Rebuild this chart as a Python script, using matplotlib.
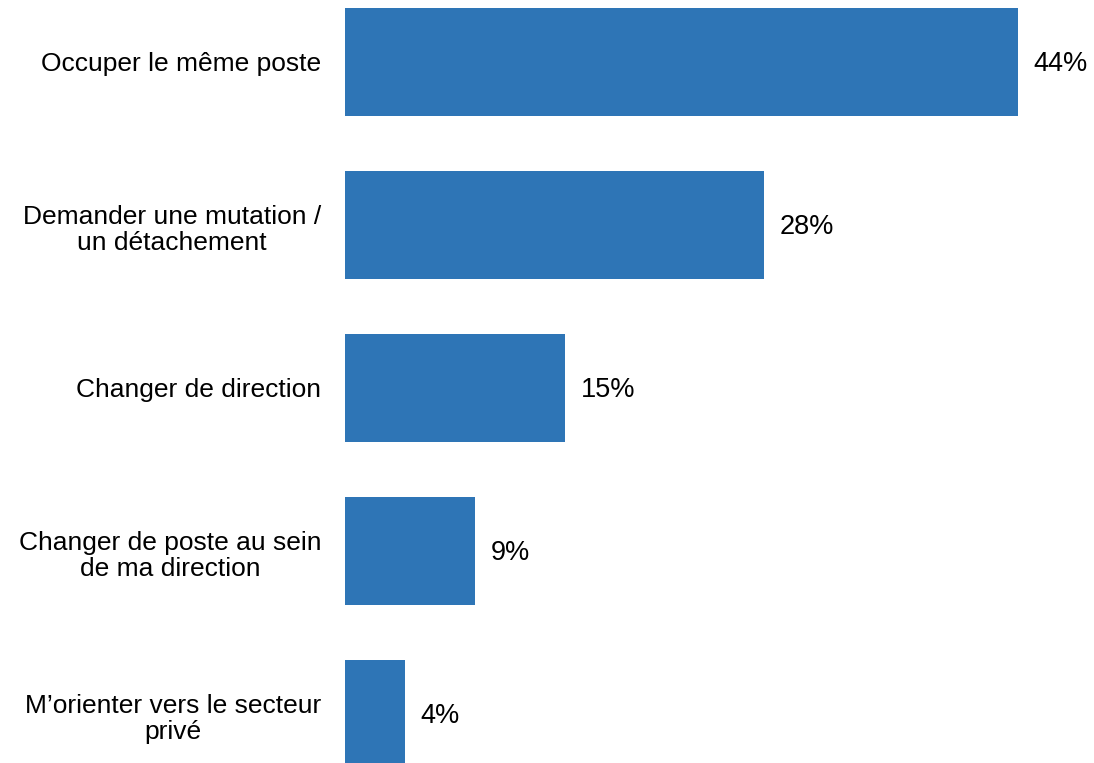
import matplotlib
matplotlib.use("Agg")
from matplotlib import pyplot as plt

# data
categories = ["Occuper le même poste",
              "Demander une mutation /\nun détachement",
              "Changer de direction",
              "Changer de poste au sein\nde ma direction",
              "M\u2019orienter vers le secteur\nprivé"]
values = [44.0, 27.4, 14.4, 8.5, 3.9]
value_labels = ["44%", "28%", "15%", "9%", "4%"]

plt.rcParams['font.family'] = ['Liberation Sans', 'DejaVu Sans']

fig = plt.figure(figsize=(10.94, 7.63), dpi=100)
ax = fig.add_axes([345 / 1094, 0, 749 / 1094, 1])

pos = list(range(len(values)))
ax.barh(pos, values, height=0.66, color='#2E75B6')

ax.set_xlim(0, 749 / 15.3)
ax.set_ylim(4.30, -0.38)
ax.axis('off')

for y, v, lab in zip(pos, values, value_labels):
    ax.annotate(lab, xy=(v, y), xytext=(11, -1.5), textcoords='offset points',
                va='center', ha='left', fontsize=19.5)

for y, cat in zip(pos, categories):
    dy = -3.5 if "\n" in cat else -1.5
    ax.annotate(cat, xy=(0, y), xytext=(-17, dy), textcoords='offset points',
                va='center', ha='right', multialignment='center',
                fontsize=19, linespacing=1.1)

fig.savefig("out.png", dpi=100)
